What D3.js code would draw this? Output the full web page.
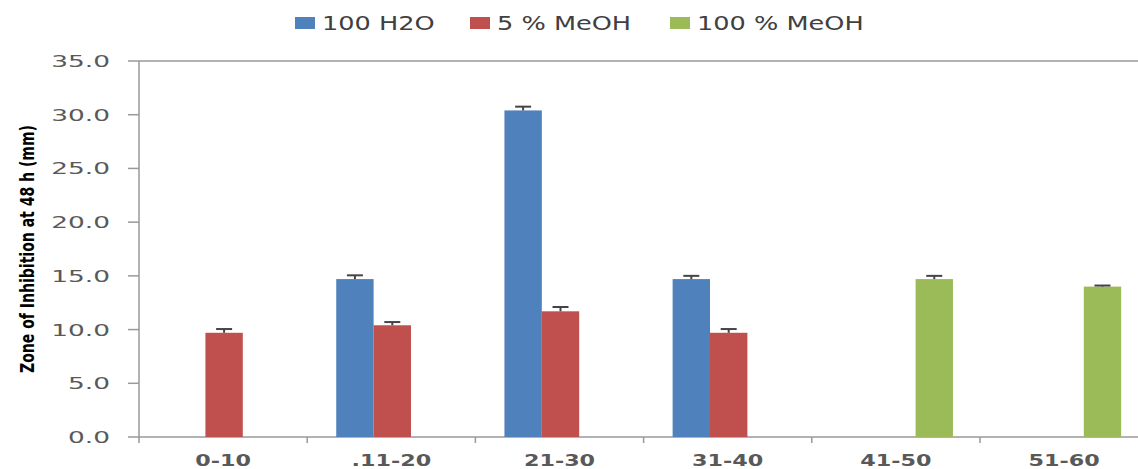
<!DOCTYPE html>
<head>
<meta charset="utf-8">
<style>
    body { margin: 0; background: #fff; }
    text { font-family: "DejaVu Sans", Verdana, sans-serif; fill: #595959; }
</style>
</head>
<body>
<script src="https://d3js.org/d3.v7.min.js"></script>
<script>

// ---------- data ----------
const categories = ['0-10', '.11-20', '21-30', '31-40', '41-50', '51-60'];
const seriesNames = ['100 H2O', '5 % MeOH', '100 % MeOH'];
const seriesColors = ['#4F81BD', '#C0504D', '#9BBB59'];
const h2o = [null, 14.7, 30.4, 14.7, null, null];
const meoh5 = [9.7, 10.4, 11.7, 9.7, null, null];
const meoh100 = [null, null, null, null, 14.7, 14.0];
const h2oErr = [0, 0.35, 0.35, 0.3, 0, 0];
const meoh5Err = [0.35, 0.3, 0.4, 0.35, 0, 0];
const meoh100Err = [0, 0, 0, 0, 0.3, 0.1];
const yTicks = [0, 5, 10, 15, 20, 25, 30, 35];

// ---------- setup ----------
const W = 1138, H = 469;
const plotLeft = 139, plotTop = 61, plotBottom = 437;
const bandW = 168.2;
const stretch = 1.35; // the reference picture is stretched sideways

const svg = d3.select('body').append('svg')
    .attr('width', W).attr('height', H);

const x = d3.scaleBand().domain(categories)
    .range([plotLeft, plotLeft + bandW * categories.length]);
// Excel-style gap of 150%: each bar = bandW / 4.5
const gap = bandW * 0.75 / 4.5;
const inner = d3.scaleBand().domain(d3.range(3))
    .range([gap + 1, bandW - gap + 1]);
const y = d3.scaleLinear().domain([0, 35]).range([plotBottom, plotTop]);

const values = [h2o, meoh5, meoh100];
const errs = [h2oErr, meoh5Err, meoh100Err];

let bars = [];
values.forEach((arr, s) => arr.forEach((v, i) => {
    if (v != null) bars.push({ s: s, cat: categories[i], v: v, e: errs[s][i] });
}));

// ---------- axes ----------
const axisColor = '#999';

svg.append('line')
    .attr('x1', plotLeft).attr('x2', plotLeft)
    .attr('y1', y(35)).attr('y2', y(0))
    .attr('stroke', axisColor).attr('stroke-width', 1.5);

svg.append('line')
    .attr('x1', plotLeft).attr('x2', W)
    .attr('y1', y(35)).attr('y2', y(35))
    .attr('stroke', axisColor).attr('stroke-width', 1.5);

svg.append('line')
    .attr('x1', plotLeft).attr('x2', W)
    .attr('y1', y(0)).attr('y2', y(0))
    .attr('stroke', axisColor).attr('stroke-width', 1.5);

svg.selectAll('.ytick').data(yTicks).enter().append('line')
    .attr('x1', 128).attr('x2', plotLeft)
    .attr('y1', d => y(d)).attr('y2', d => y(d))
    .attr('stroke', axisColor).attr('stroke-width', 1.5);

svg.selectAll('.ylab').data(yTicks).enter().append('text')
    .attr('transform', d => 'translate(110,' + y(d) + ') scale(1.6,1)')
    .attr('dy', '0.36em')
    .attr('text-anchor', 'end')
    .style('font-size', '16.5px')
    .text(d => d.toFixed(1));

svg.selectAll('.xtick').data(d3.range(categories.length + 1)).enter().append('line')
    .attr('x1', d => plotLeft + d * bandW).attr('x2', d => plotLeft + d * bandW)
    .attr('y1', plotBottom).attr('y2', plotBottom + 6)
    .attr('stroke', axisColor).attr('stroke-width', 1.5);

svg.selectAll('.xlab').data(categories).enter().append('text')
    .attr('transform', d => 'translate(' + (x(d) + bandW / 2) + ',466) scale(' + stretch + ',1)')
    .attr('text-anchor', 'middle')
    .style('font-size', '16.5px')
    .style('font-weight', 'bold')
    .text(d => d);

svg.append('text')
    .attr('transform', 'translate(34,' + 249 + ') rotate(-90)')
    .attr('text-anchor', 'middle')
    .attr('textLength', 248)
    .attr('lengthAdjust', 'spacingAndGlyphs')
    .style('font-weight', 'bold')
    .style('font-size', '20px')
    .style('fill', '#000')
    .text('Zone of Inhibition at 48 h (mm)');

// ---------- bars ----------
svg.selectAll('.bar').data(bars).enter().append('rect')
    .attr('x', d => x(d.cat) + inner(d.s))
    .attr('width', inner.bandwidth())
    .attr('y', d => y(d.v))
    .attr('height', d => y(0) - y(d.v))
    .attr('fill', d => seriesColors[d.s]);

const err = svg.selectAll('.err').data(bars).enter().append('g')
    .attr('stroke', '#444').attr('stroke-width', 2);
err.append('line')
    .attr('x1', d => x(d.cat) + inner(d.s) + inner.bandwidth() / 2)
    .attr('x2', d => x(d.cat) + inner(d.s) + inner.bandwidth() / 2)
    .attr('y1', d => y(d.v)).attr('y2', d => y(d.v + d.e));
err.append('line')
    .attr('x1', d => x(d.cat) + inner(d.s) + inner.bandwidth() / 2 - 8)
    .attr('x2', d => x(d.cat) + inner(d.s) + inner.bandwidth() / 2 + 8)
    .attr('y1', d => y(d.v + d.e)).attr('y2', d => y(d.v + d.e));

// ---------- legend ----------
const legendX = [295, 470, 670];
const leg = svg.selectAll('.leg').data(seriesNames).enter().append('g')
    .attr('transform', (d, i) => 'translate(' + legendX[i] + ',23)');
leg.append('rect')
    .attr('x', 0).attr('y', -6).attr('width', 20).attr('height', 12)
    .attr('fill', (d, i) => seriesColors[i]);
leg.append('text')
    .attr('transform', 'translate(27,0) scale(1.28,1)')
    .attr('dy', '0.36em')
    .style('font-size', '20px')
    .style('fill', '#404040')
    .text(d => d);

</script>
</body>
